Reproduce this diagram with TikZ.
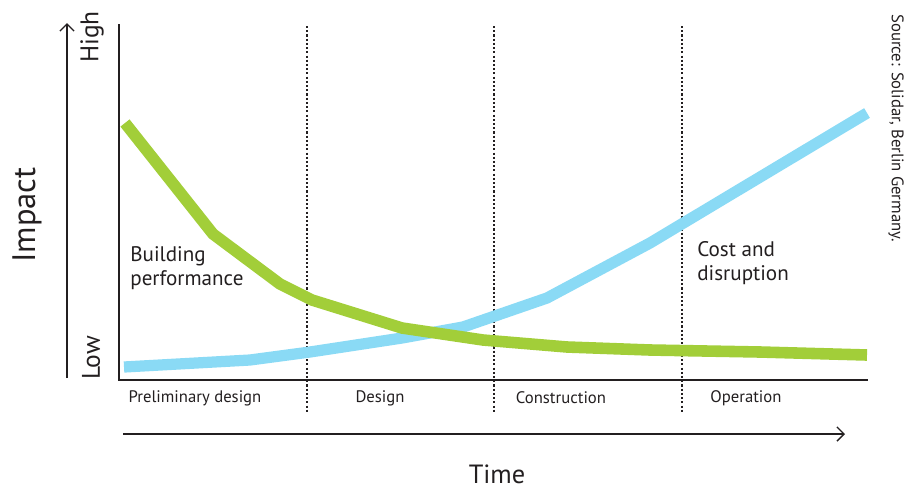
\documentclass[tikz,border=0pt]{standalone}
\usepackage{fontspec}
\setmainfont{PT Sans}
\usetikzlibrary{arrows.meta, positioning}
\definecolor{perfgreen}{RGB}{162,206,57}
\definecolor{costblue}{RGB}{138,218,245}
\definecolor{inkgray}{RGB}{35,31,32}
\newcommand*{\fsz}[2]{\fontsize{#1}{#2}\selectfont}

\begin{document}
\begin{tikzpicture}[x=0.02cm, y=-0.02cm, >={Straight Barb[length=4pt, width=8pt]},
      axis/.style={draw=inkgray, line width=0.8pt},
      phase/.style={draw=inkgray, line width=0.6pt, dash pattern=on 1.2pt off 1.2pt},
      curve/.style={line width=#1, line join=miter},
      every node/.style={text=inkgray, inner sep=0pt},
      tag/.style={anchor=west, align=left, font=\fsz{12pt}{14pt}}]
      \useasboundingbox (0,0) rectangle (917,488);
      % axes
      \coordinate (origin) at (119,380);
      \coordinate (ytop) at (119,24);
      \coordinate (xend) at (868,380);
      \draw[axis] (ytop) -- (origin) -- (xend);
      \coordinate (impact base) at (67,378);
      \coordinate (impact tip) at (67,23);
      \draw[axis, ->] (impact base) -- (impact tip);
      \coordinate (time base) at (123,434);
      \coordinate (time tip) at (845,434);
      \draw[axis, ->] (time base) -- (time tip);
      % phase borders
      \foreach \px/\nm in {307/a, 494/b, 682/c} {
        \coordinate (ph\nm top) at (\px,26);
        \coordinate (ph\nm bot) at (\px,412);
        \draw[phase] (ph\nm top) -- (ph\nm bot);
      }
      % curves
      \draw[curve=6.4pt, draw=costblue] plot coordinates {(124,367) (250,360) (310,352) (402,338)
        (463,327) (547,298) (650,243) (867,113)};
      \draw[curve=6.6pt, draw=perfgreen] plot coordinates {(125,123) (213,234) (280,284) (312,300)
        (402,328) (483,340) (567,347) (650,350) (760,352) (867,355)};
      % labels
      \node[rotate=90, font=\fsz{14.5pt}{17pt}] (high) at (92,37) {High};
      \node[rotate=90, font=\fsz{14.5pt}{17pt}] (low) at (91,358) {Low};
      \node[rotate=90, font=\fsz{18.5pt}{22pt}] (impact) at (27,215) {Impact};
      \node[font=\fsz{15pt}{18pt}] (time) at (497,474) {Time};
      \node[rotate=-90, font=\fsz{9.5pt}{11pt}] (source) at (896,128) {Source: Solidar, Berlin Germany.};
      \node[tag] (perf) at (130,268) {Building\\performance};
      \node[tag] (cost) at (697,263) {Cost and\\disruption};
      \foreach \cx/\txt in {195/Preliminary design, 380/Design, 561/Construction, 746/Operation}
        \node[font=\fsz{9.5pt}{11pt}] (lbl \txt) at (\cx,398) {\txt};
\end{tikzpicture}
\end{document}
